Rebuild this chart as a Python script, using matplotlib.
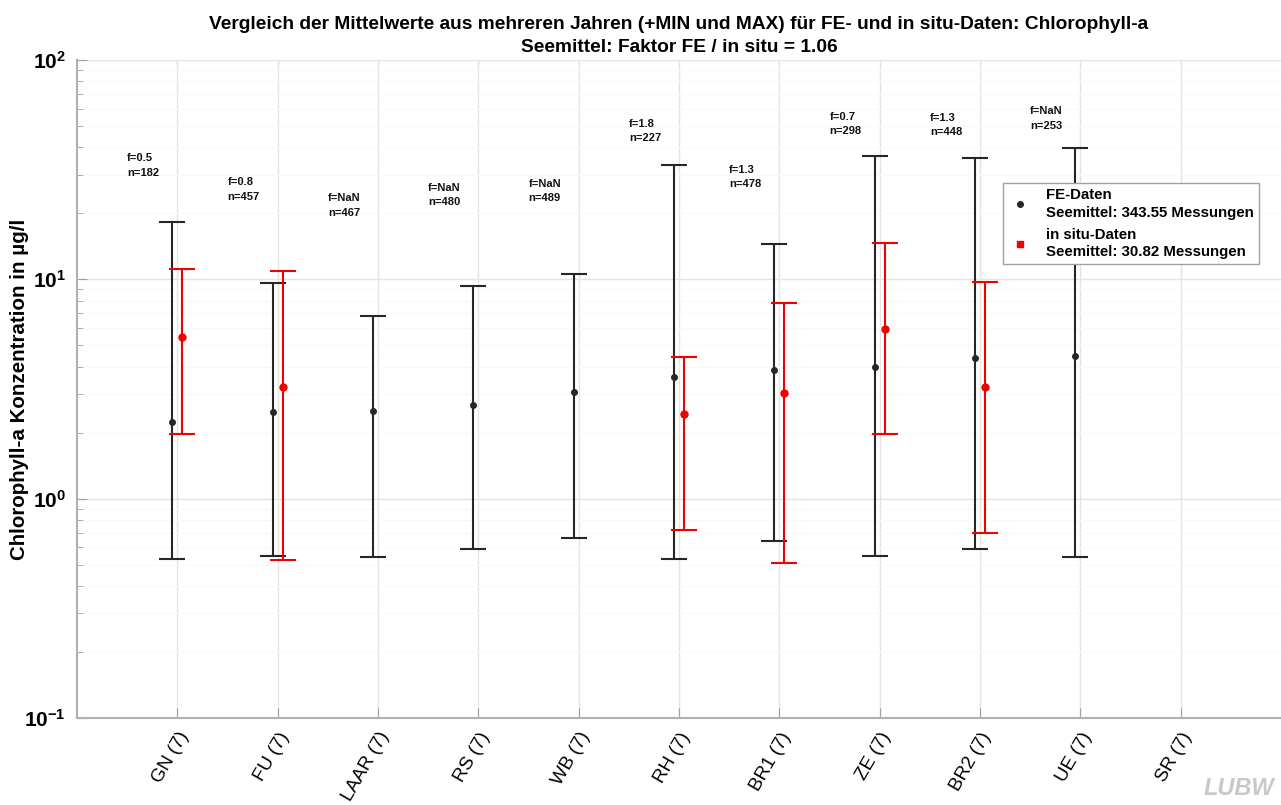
import numpy as np
import matplotlib
matplotlib.use("Agg")
import matplotlib.pyplot as plt
from matplotlib.lines import Line2D
from matplotlib import ticker

plt.rcParams["font.family"] = ["Liberation Sans", "DejaVu Sans"]
plt.rcParams["mathtext.fontset"] = "custom"
plt.rcParams["mathtext.bf"] = "Liberation Sans:bold"
plt.rcParams["mathtext.rm"] = "Liberation Sans"

# Messstellen (Anzahl Jahre in Klammern)
stations = ["GN (7)", "FU (7)", "LAAR (7)", "RS (7)", "WB (7)", "RH (7)",
            "BR1 (7)", "ZE (7)", "BR2 (7)", "UE (7)", "SR (7)"]

# FE-Daten: Mittel, Min, Max (µg/l)
fe_mean = [2.24, 2.48, 2.52, 2.67, 3.06, 3.58, 3.86, 3.98, 4.37, 4.47, np.nan]
fe_min = [0.53, 0.55, 0.54, 0.59, 0.66, 0.53, 0.64, 0.55, 0.59, 0.54, np.nan]
fe_max = [18.3, 9.6, 6.83, 9.3, 10.6, 33.2, 14.5, 36.6, 35.7, 39.8, np.nan]

# in situ-Daten: Mittel, Min, Max (µg/l)
is_mean = [5.48, 3.22, np.nan, np.nan, np.nan, 2.43, 3.03, 5.94, 3.22, np.nan, np.nan]
is_min = [1.97, 0.525, np.nan, np.nan, np.nan, 0.72, 0.51, 1.98, 0.70, np.nan, np.nan]
is_max = [11.2, 10.9, np.nan, np.nan, np.nan, 4.41, 7.78, 14.6, 9.77, np.nan, np.nan]

# Faktor FE / in situ und Anzahl Messungen
f_vals = ["0.5", "0.8", "NaN", "NaN", "NaN", "1.8", "1.3", "0.7", "1.3", "NaN", None]
n_vals = [182, 457, 467, 480, 489, 227, 478, 298, 448, 253, None]

# Hoehe der Beschriftung (Datenkoordinaten)
label_y = [33.0, 25.7, 21.7, 24.3, 25.3, 47.4, 29.2, 51.2, 50.4, 54.2, None]


def draw_errorbars(ax, x, mean, lo, hi, color, ms):
    mean, lo, hi = np.array(mean), np.array(lo), np.array(hi)
    ok = ~np.isnan(mean)
    yerr = [mean[ok] - lo[ok], hi[ok] - mean[ok]]
    ax.errorbar(x[ok], mean[ok], yerr=yerr, fmt="o", color=color, ms=ms,
                ecolor=color, elinewidth=1.5, capsize=9.5, capthick=1.5, zorder=3)


fig = plt.figure(figsize=(12.81, 8.05), dpi=100)
ax = fig.add_axes([0.0601, 0.108, 0.9399, 0.8175])

x = np.arange(1, len(stations) + 1)
draw_errorbars(ax, x - 0.05, fe_mean, fe_min, fe_max, "#262626", 4.0)
draw_errorbars(ax, x + 0.05, is_mean, is_min, is_max, "#f00000", 5.0)

for xi, f, n, yy in zip(x, f_vals, n_vals, label_y):
    if f is None:
        continue
    ax.text(xi - 0.5, yy, f"f={f}\nn={n}", fontsize=8, fontweight="bold",
            ha="left", va="center", linespacing=1.55, color="#111111")

ax.set_yscale("log")
ax.set_ylim(0.1, 100)
ax.set_xlim(0, 12)
ax.set_xticks(x)
ax.set_xticklabels(stations, rotation=60, ha="right", rotation_mode="anchor",
                   fontsize=13.5)
ax.yaxis.set_major_formatter(ticker.FuncFormatter(
    lambda v, p: r"$\mathbf{10^{%d}}$" % int(round(np.log10(v)))))
ax.yaxis.set_minor_formatter(ticker.NullFormatter())
ax.tick_params(axis="y", which="major", labelsize=15, direction="in", length=7,
               color="#a0a0a0", pad=8)
ax.tick_params(axis="y", which="minor", direction="in", length=4, color="#a0a0a0")
ax.tick_params(axis="x", direction="in", length=7, color="#a0a0a0", pad=8)

ax.grid(True, which="major", color="#e4e4e4", linewidth=1.0)
ax.grid(True, which="minor", axis="y", color="#f9f9f9", linewidth=0.8)
ax.set_axisbelow(True)
for side in ["top", "right"]:
    ax.spines[side].set_visible(False)
for side in ["left", "bottom"]:
    ax.spines[side].set_color("#b0b0b0")
    ax.spines[side].set_linewidth(1.5)

ax.set_ylabel("Chlorophyll-a Konzentration in µg/l", fontsize=14.8,
              fontweight="bold")
ax.yaxis.set_label_coords(-0.040, 0.5)
ax.set_title("Vergleich der Mittelwerte aus mehreren Jahren (+MIN und MAX) für FE- und in situ-Daten: Chlorophyll-a\n"
             "Seemittel: Faktor FE / in situ = 1.06",
             fontsize=13.8, fontweight="bold", pad=6, linespacing=1.45)

handles = [Line2D([], [], marker="o", ls="", color="#262626", ms=4),
           Line2D([], [], marker="s", ls="", color="#f00000", ms=5)]
leg = ax.legend(handles,
                ["FE-Daten\nSeemittel: 343.55 Messungen",
                 "in situ-Daten\nSeemittel: 30.82 Messungen"],
                loc="upper left", bbox_to_anchor=(0.769, 0.813),
                borderaxespad=0, fancybox=False, framealpha=1,
                edgecolor="#a0a0a0", prop={"weight": "bold", "size": 10.8},
                handlelength=1.6, handletextpad=0.9, labelspacing=0.55,
                borderpad=0.35)
leg.get_frame().set_linewidth(1.0)
for t in leg.get_texts():
    t.set_linespacing(1.3)

fig.text(0.995, 0.006, "LUBW", fontsize=17, fontweight="bold", style="italic",
         color="#c8c8c8", ha="right", va="bottom")

fig.savefig("out.png", dpi=100)
